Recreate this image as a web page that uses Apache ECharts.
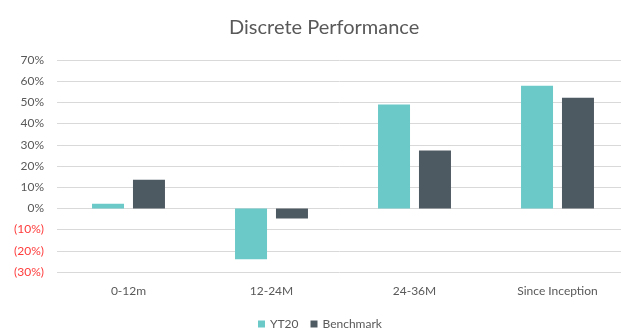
<!DOCTYPE html>
<html><head><meta charset="utf-8">
<script src="https://cdn.jsdelivr.net/npm/echarts@6/dist/echarts.min.js"></script>
<style>html,body{margin:0;padding:0;background:#fff;}#c{width:621px;height:329px;}</style>
</head><body><div id="c"></div>
<script>
const categories = ['0-12m', '12-24M', '24-36M', 'Since Inception'];
const yt20 = [2.2, -24, 49, 57.8];
const benchmark = [13.5, -4.8, 27.3, 52.2];
const seriesNames = ['YT20', 'Benchmark'];

const chart = echarts.init(document.getElementById('c'), null, {renderer: 'canvas'});
const font = 'Lato, "Open Sans", sans-serif';
chart.setOption({
  animation: false,
  backgroundColor: '#fff',
  title: {
    text: 'Discrete Performance', left: 224, top: 13,
    textStyle: {fontFamily: font, fontSize: 20, fontWeight: 'normal', color: '#595959'}
  },
  legend: {
    data: seriesNames, bottom: -6, left: 253, itemWidth: 7, itemHeight: 7, itemGap: 12,
    icon: 'rect',
    textStyle: {fontFamily: font, fontSize: 12, color: '#595959'}
  },
  grid: {left: 57, width: 572, top: 60, height: 212, containLabel: false, outerBoundsMode: 'none'},
  xAxis: {
    type: 'category', data: categories,
    axisLine: {show: false}, axisTick: {show: false},
    axisLabel: {fontFamily: font, fontSize: 12, color: '#595959', margin: 13}
  },
  yAxis: {
    type: 'value', min: -30, max: 70, interval: 10,
    axisLine: {show: false}, axisTick: {show: false},
    splitLine: {lineStyle: {color: '#d9d9d9', width: 1}},
    axisLabel: {
      fontFamily: font, fontSize: 12, margin: 13,
      formatter: v => v < 0 ? '(' + Math.abs(v) + '%)' : v + '%',
      color: v => (Number(v) < 0 ? '#ff3b3b' : '#595959')
    }
  },
  series: [
    {name: seriesNames[0], type: 'bar', data: yt20, barWidth: 32, barGap: '28%',
     itemStyle: {color: '#6BC9C8'}},
    {name: seriesNames[1], type: 'bar', data: benchmark, barWidth: 32,
     itemStyle: {color: '#4E5A62'}}
  ]
});
</script></body></html>
